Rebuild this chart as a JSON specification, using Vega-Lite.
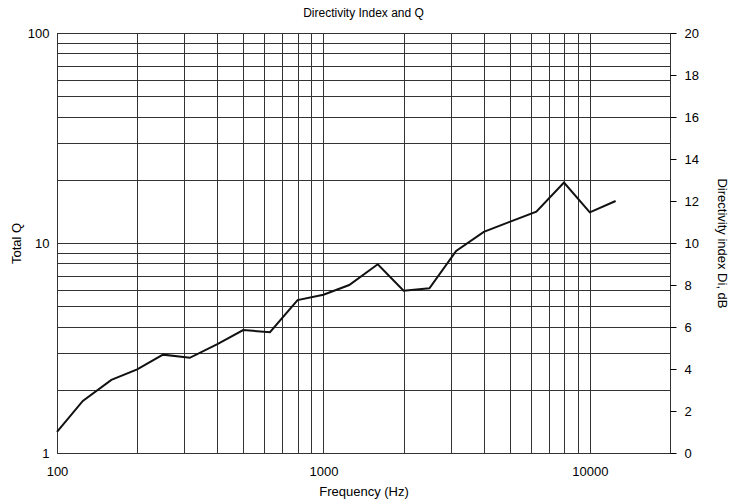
{
  "$schema": "https://vega.github.io/schema/vega-lite/v6.json",
  "autosize": "none",
  "width": 613,
  "height": 420,
  "padding": {"left": 57, "top": 33, "right": 80, "bottom": 51},
  "title": {"text": "Directivity Index and Q", "fontSize": 12, "fontWeight": "normal", "font": "Liberation Sans", "color": "#000", "offset": 7},
  "config": {
    "font": "Liberation Sans",
    "view": {"stroke": "#000", "strokeWidth": 1},
    "axis": {"labelFontSize": 13, "titleFontSize": 13, "titleFontWeight": "normal", "labelColor": "#000", "titleColor": "#000", "gridColor": "#333", "gridOpacity": 1, "gridWidth": 1, "domain": false}
  },
  "data": {"values": [
    {"f": 100, "q": 1.26},
    {"f": 125, "q": 1.77},
    {"f": 160, "q": 2.23},
    {"f": 200, "q": 2.5},
    {"f": 250, "q": 2.94},
    {"f": 315, "q": 2.84},
    {"f": 400, "q": 3.3},
    {"f": 500, "q": 3.85},
    {"f": 630, "q": 3.76},
    {"f": 800, "q": 5.35},
    {"f": 1000, "q": 5.67},
    {"f": 1250, "q": 6.31},
    {"f": 1600, "q": 7.92},
    {"f": 2000, "q": 5.93},
    {"f": 2500, "q": 6.09},
    {"f": 3150, "q": 9.16},
    {"f": 4000, "q": 11.3},
    {"f": 5000, "q": 12.6},
    {"f": 6300, "q": 14.1},
    {"f": 8000, "q": 19.4},
    {"f": 10000, "q": 14.0},
    {"f": 12500, "q": 15.85}
  ]},
  "layer": [
    {
      "mark": {"type": "line", "color": "#111", "strokeWidth": 2},
      "encoding": {
        "x": {"field": "f", "type": "quantitative", "scale": {"type": "log", "domain": [100, 20000], "nice": false},
          "axis": {"title": "Frequency (Hz)", "values": [100,200,300,400,500,600,700,800,900,1000,2000,3000,4000,5000,6000,7000,8000,9000,10000,20000], "format": "d", "labelExpr": "datum.value==100||datum.value==1000||datum.value==10000 ? datum.label : ''", "ticks": false, "labelPadding": 12, "titlePadding": 7, "labelFlush": false}},
        "y": {"field": "q", "type": "quantitative", "scale": {"type": "log", "domain": [1, 100], "nice": false},
          "axis": {"title": "Total Q", "orient": "left", "values": [1,2,3,4,5,6,7,8,9,10,20,30,40,50,60,70,80,90,100], "format": "d", "labelExpr": "datum.value==1||datum.value==10||datum.value==100 ? datum.label : ''", "ticks": false, "labelPadding": 8, "titlePadding": 4, "labelFlush": false}}
      }
    },
    {
      "mark": {"type": "point", "opacity": 0},
      "encoding": {
        "y": {"datum": 0, "type": "quantitative", "scale": {"domain": [0, 20], "nice": false},
          "axis": {"title": "Directivity index Di, dB", "orient": "right", "values": [0,2,4,6,8,10,12,14,16,18,20], "grid": false, "ticks": true, "tickSize": 6, "tickColor": "#000", "labelPadding": 8, "titlePadding": 16, "titleAngle": 90, "labelFlush": false}}
      }
    }
  ],
  "resolve": {"scale": {"y": "independent"}}
}
